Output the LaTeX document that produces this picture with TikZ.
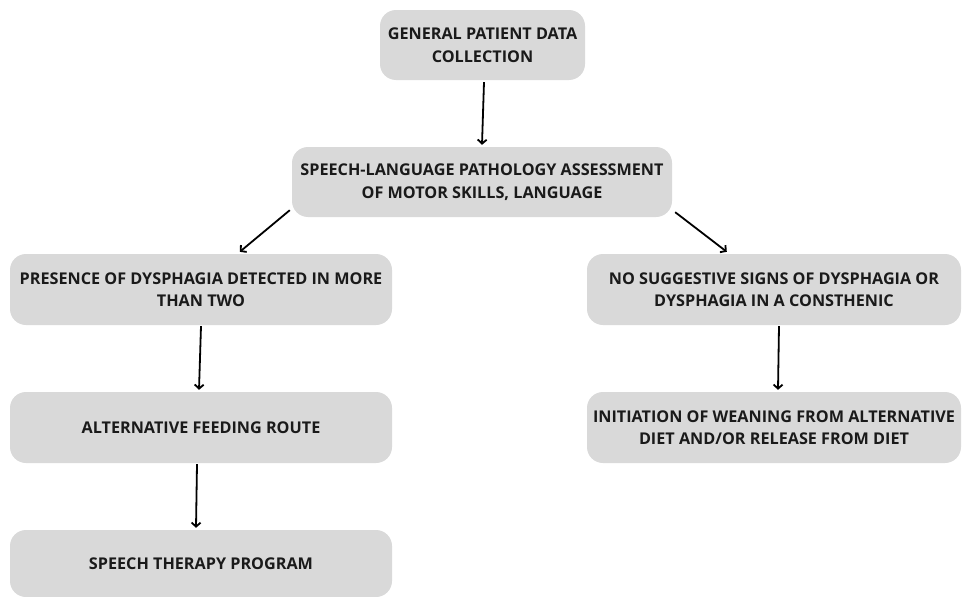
\documentclass[tikz,border=0pt]{standalone}
\usepackage{fontspec}
\setmainfont{Open Sans}
\usetikzlibrary{arrows.meta}
\definecolor{boxgray}{HTML}{D9D9D9}
\definecolor{txt}{HTML}{1A1A1A}
\begin{document}
\begin{tikzpicture}[x=1pt,y=-1pt,
  flowbox/.style={draw=none,fill=boxgray,rounded corners=16pt,inner sep=0pt,
    align=center,text=txt,font=\bfseries\fontsize{16.2}{22.5}\selectfont},
  arr/.style={line width=1.8pt,-{Straight Barb[length=4pt,width=9pt]}}]
\useasboundingbox (0,0) rectangle (962,597);
\node[flowbox,minimum width=205pt,minimum height=70pt] (b1) at (482.5,45) {GENERAL PATIENT DATA\\COLLECTION};
\node[flowbox,minimum width=380pt,minimum height=70pt] (b2) at (482,182) {SPEECH-LANGUAGE PATHOLOGY ASSESSMENT\\OF MOTOR SKILLS, LANGUAGE};
\node[flowbox,minimum width=382pt,minimum height=71pt] (b3) at (201,289.5) {PRESENCE OF DYSPHAGIA DETECTED IN MORE\\THAN TWO};
\node[flowbox,minimum width=374pt,minimum height=71pt] (b4) at (774,289.5) {NO SUGGESTIVE SIGNS OF DYSPHAGIA OR\\DYSPHAGIA IN A CONSTHENIC};
\node[flowbox,minimum width=374pt,minimum height=71pt] (b5) at (774,427.5) {INITIATION OF WEANING FROM ALTERNATIVE\\DIET AND/OR RELEASE FROM DIET};
\node[flowbox,minimum width=382pt,minimum height=71pt] (b6) at (201,427.5) {ALTERNATIVE FEEDING ROUTE};
\node[flowbox,minimum width=382pt,minimum height=67pt] (b7) at (201,563.5) {SPEECH THERAPY PROGRAM};
\draw[arr] ([shift={(1.5,2)}]b1.south) -- ([shift={(0,-2)}]b2.north);
\draw[arr] ([shift={(-2,-7)}]b2.south west) -- ([shift={(230,-2)}]b3.north west);
\draw[arr] ([shift={(3,-5)}]b2.south east) -- ([shift={(140,-2)}]b4.north west);
\draw[arr] ([shift={(0,1)}]b3.south) -- ([shift={(-2,-2)}]b6.north);
\draw[arr] ([shift={(5,1)}]b4.south) -- ([shift={(4,-2)}]b5.north);
\draw[arr] ([shift={(-4,1)}]b6.south) -- ([shift={(-5,-2)}]b7.north);
\end{tikzpicture}
\end{document}
